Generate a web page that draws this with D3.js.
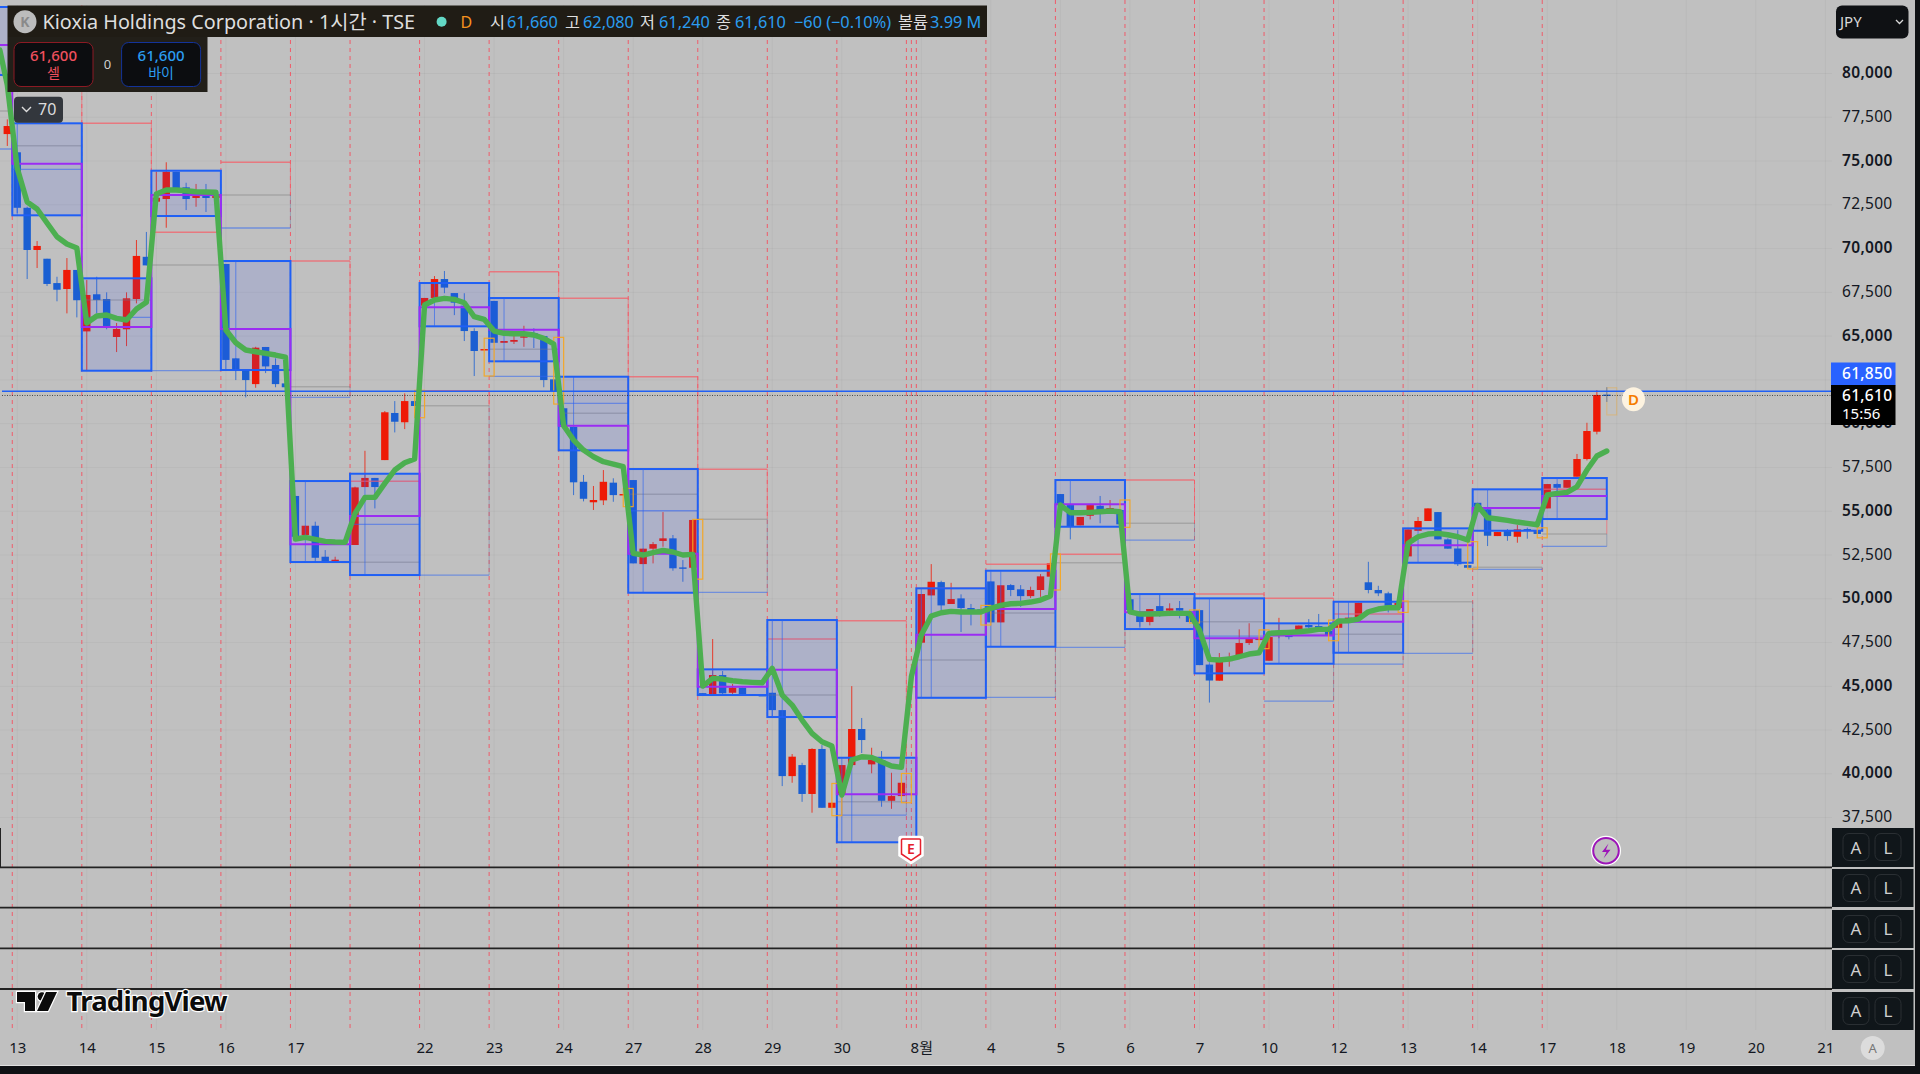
<!DOCTYPE html>
<html><head><meta charset="utf-8">
<script src="https://cdn.jsdelivr.net/npm/d3@7"></script>
<style>
html,body{margin:0;padding:0;background:#c0c0c0;overflow:hidden}
svg{display:block}
text{font-family:"Noto Sans","Noto Sans CJK KR",sans-serif}
</style></head><body>
<svg id="c" width="1920" height="1074"></svg>
<script>
// [open, high, low, close] per hourly bar
const candles=[
[76540,77380,75860,77000],[75500,75500,72030,72330],[72330,72390,68260,69920],[69920,70430,68890,70150],[69420,69420,67860,67980],[68030,68390,66990,67650],[67690,69460,66300,68780],[68780,68780,66070,67050],
[65270,68200,63060,67350],[67390,68390,66300,67060],[67120,67500,65390,65580],[64950,65750,64090,65410],[65390,67500,64430,67160],[67120,70490,66870,69580],[69530,70950,69040,69040],
[72680,74390,72680,72900],[72830,74930,71190,74390],[74390,74390,73350,73350],[73500,73760,72200,72830],[72890,73690,72390,73060],[73060,73690,72090,72890],[72890,73060,72890,73060],
[69120,69120,63060,63640],[63730,63750,62490,63020],[63060,63060,61500,62490],[62260,64390,62050,64340],[64380,64380,62890,63270],[63350,63730,62080,62260],[62300,62300,62080,62080],
[55870,55870,53540,53540],[53640,54170,53640,54170],[54170,54400,52110,52340],[52400,52780,52110,52110],[52140,52400,52110,52230],[52100,52140,52080,52120],
[53070,56400,53070,56360],[56380,58450,56380,56900],[56900,56900,55160,56380],[57920,60720,57920,60650],[60610,61290,59500,60110],[60080,61730,59690,61290],[61290,61290,61010,61010],
[66740,67180,66450,67180],[67180,68430,67180,68260],[68260,68720,67450,67770],[67460,67460,66200,66910],[66740,67450,64720,65290],[65290,65450,62720,64150],[64190,64260,64190,64260],
[67010,67010,64620,64620],[64620,64720,64620,64720],[64680,65010,64550,64780],[64910,65590,64390,64990],[65180,65450,64320,64950],[65000,65000,62080,62490],[62530,62530,61810,61810],
[60880,60880,59820,59820],[59820,59820,55920,56650],[56680,57070,55560,55710],[55510,56440,55070,55640],[55620,57350,55350,56680],[56630,56880,55540,55920],[55920,55980,55920,55980],
[56780,56780,52020,52020],[51980,52860,51980,52860],[52860,53240,52020,53120],[53300,54950,52970,53450],[53450,53640,51600,51740],[51790,52210,50970,51770],[51770,54500,51770,54500],
[44610,44610,44500,44500],[44540,47700,44540,45640],[45640,45870,44560,44600],[44630,45130,44560,44920],[44920,44920,44540,44540],[44540,44550,44500,44500],[44500,44520,44480,44480],
[44630,44630,43240,43640],[43640,43640,39300,39870],[39870,41130,39490,40980],[40500,40630,38400,38850],[38850,41460,37780,41420],[41420,41640,38060,38060],[38060,38350,38060,38350],
[38830,40500,38830,40500],[40500,45010,40500,42560],[42560,43190,41190,41930],[40540,41490,40030,40790],[40790,41300,38120,38460],[38460,40060,38000,38730],[38730,39490,38730,39490],null,
[47490,50270,47490,50270],[50190,51980,50190,50970],[50950,51030,49350,49620],[49700,50910,49700,49980],[50020,50250,48100,49470],[49470,49700,48480,49360],[49400,49500,49300,49350],
[50990,50990,48650,48650],[48650,50770,48650,50770],[50780,50840,50150,50500],[50540,50780,49540,50150],[50150,50690,50040,50500],[50500,51410,50110,51280],[51260,52100,51260,52020],
[55980,55980,55350,55350],[55350,55350,53390,54150],[54190,54670,54190,54670],[54740,55350,54530,55350],[55310,55870,54310,55030],[55030,55640,54880,55180],[55070,55070,54250,54250],
[49970,49970,49350,49350],[49010,49300,48400,48670],[48670,49410,48480,49410],[49580,50270,48970,49300],[49320,49740,49010,49450],[49470,49870,48880,49320],[49260,49260,48670,48670],
[49350,49350,46210,46210],[46240,46240,44070,45330],[45320,46900,45320,46390],[46440,46920,46120,46610],[46760,48250,46760,47470],[47470,48600,47360,47700],[47640,47760,47640,47760],
[46460,47810,46460,47810],[47980,48910,47740,48100],[47980,48120,47680,47810],[48210,48470,48210,48470],[48500,48840,48330,48370],[48440,49130,48120,48340],[48160,48160,47890,47890],
[48340,48600,48340,48600],[48690,48920,48690,48920],[48920,49770,48920,49770],[50940,52110,50310,50500],[50500,50740,50150,50310],[50310,50400,49220,49600],[49470,49760,49470,49760],
[52420,53960,52420,53960],[53880,54670,53880,54440],[54440,55160,54440,55160],[54950,54950,53390,53390],[53390,53450,52860,52860],[52870,53920,51870,51970],[51920,51920,51770,51770],
[55480,55480,55260,55260],[55110,55110,53010,53600],[53580,53810,53580,53810],[53880,53980,53310,53580],[53540,54210,53200,53960],[53980,54060,53430,53880],[53880,53880,53700,53700],
[55160,56550,55160,56550],[56550,56580,55920,56340],[56340,56780,56340,56780],[56970,58270,56970,57980],[57980,60050,57900,59580],[59540,61920,59390,61640],[61660,62080,61240,61610]
];
const averageLine=[79340,74584,72660,72260,71460,70677,70260,70032,65748,66148,66205,66016,65920,66548,66930,73117,73345,73345,73305,73248,73231,73214,65348,64623,64206,64109,64017,63920,63806,53411,53507,53393,53279,53239,53222,54878,55792,55792,56592,57352,57769,57980,66776,67062,67159,67102,66908,66108,65960,65291,65160,65137,65137,65063,64874,64549,59882,59065,58494,58111,57826,57694,57541,52593,52497,52628,52765,52668,52497,52536,45014,45454,45414,45317,45260,45226,45203,46024,44500,43929,43072,42312,41833,41586,38788,40787,40976,40941,40690,40445,40370,45545,47927,49012,49201,49281,49240,49240,49240,49452,49623,49715,49737,49812,49926,50154,55352,54913,54913,54936,54970,55010,54970,49257,49126,49126,49143,49166,49166,49166,48212,46539,46499,46556,46687,46842,46916,48024,48058,48081,48115,48172,48252,48252,48726,48744,48841,49257,49412,49486,49486,53165,53542,53696,53736,53656,53542,53353,55312,54627,54552,54478,54381,54306,54228,55924,56020,56078,56398,57352,58152,58437];
// Daily range boxes: first bar of each session
const dayStarts=[-6,1,8,15,22,29,35,42,49,56,63,70,77,84,92,99,106,113,120,127,134,141,148,155];
const dayHighs=[83798,77155,68302,74448,69290,56723,57140,68033,67176,62681,57409,45967,48784,40918,50594,51600,56780,50268,50023,48595,49829,54021,56249,56895];
const dayLows=[79914,71900,63024,71860,63063,52096,51354,65560,63561,58476,50343,44500,43243,36090,44345,47258,54113,48269,45739,46288,46916,52056,53884,54553];
const dayMids=[81628,74847,65520,73060,65406,53107,54724,66645,65366,59882,52570,44974,45941,38827,47945,49412,55392,49224,47738,47899,48687,53050,55181,55867];
const lastBar=161;
// Thin projected levels of the earlier session
const levelStarts=[-6,1,8,15,22,29,35,42,49,56,63,70,77,84,91,92,99,106,113,120,127,134,141,148,155];
const levelEnds=[1,8,15,22,29,35,42,49,56,63,70,77,84,91,92,99,106,113,120,127,134,141,148,155,161];
const levelRed=[null,84009,77155,70929,74927,69290,56706,61881,68678,67159,62681,57391,47698,48744,44974,50594,51965,52536,56780,50268,50023,49126,null,null,56249];
const levelGray=[77858,75876,67062,69061,73060,62110,52079,61025,64246,60590,55963,54534,44500,38405,46500,46500,49183,52056,54307,48687,47967,47967,49829,51794,53696];
const levelBlue=[75687,74528,66074,63024,71175,61505,54250,51354,62704,61162,55027,50366,43243,37645,null,44345,44368,47225,53353,47870,44157,46270,46881,51679,52994];
const stemBars=[1,23,30,36,43,50,57,64,71,77,78,84,85,92,93,99,100,107,114,121,128,134,135,142,149,156];
// Orange end-of-session boxes: bar, top price, bottom price
const orangeBars=[41,48,55,62,69,83,90,98,105,112,119,126,133,140,147,154,161];
const orangeTops=[61900,64880,64930,56300,54530,39450,40020,49620,52560,55640,49360,48220,48780,49870,53260,54050,62050];
const orangeBottoms=[60340,62720,61120,55260,51120,37610,38350,48500,50500,54080,48610,47150,47600,49220,51700,53480,60500];
const priceTicks=d3.range(37500,80001,2500);
const hiddenPriceLabel=62500;
const timeBars=[1,8,15,22,29,42,49,56,63,70,77,84,92,99,106,113,120,127,134,141,148,155,162,169,176,183];
const timeLabels=["13","14","15","16","17","22","23","24","27","28","29","30","8월","4","5","6","7","10","12","13","14","17","18","19","20","21"];
const extraDashBars=[35,91,91.5];
const lastPrice=61610, alertPrice=61850;

const svg=d3.select("#c");
const x=d3.scaleLinear().domain([0,161]).range([7.3,1606.8]);
const y=d3.scaleLinear().domain([80000,37500]).range([73.5,817.6]);
const edge=b=>x(b-0.5);
const RED="#ee1a06",BLUE="#1a5fd2",BOX="#1f5ff5",PURP="#9b2cf2";

svg.append("rect").attr("width",1920).attr("height",1074).attr("fill","#c0c0c0");
// grid
const grid=svg.append("g").attr("stroke","#000").attr("stroke-opacity",.035);
grid.selectAll("line.h").data(priceTicks).join("line").attr("x1",0).attr("x2",1832).attr("y1",d=>y(d)).attr("y2",d=>y(d));
grid.selectAll("line.v").data(timeBars).join("line").attr("x1",d=>x(d)).attr("x2",d=>x(d)).attr("y1",0).attr("y2",1030);
// session separators
const dashBars=timeBars.filter(d=>d<=155).concat(extraDashBars);
svg.append("g").selectAll("line").data(dashBars).join("line")
 .attr("x1",d=>edge(d)).attr("x2",d=>edge(d)).attr("y1",0).attr("y2",1030)
 .attr("stroke","#f4505f").attr("stroke-opacity",.9).attr("stroke-width",1).attr("stroke-dasharray","4 4");
// candles
const rows=candles.map((r,i)=>r&&({i,o:r[0],h:r[1],l:r[2],c:r[3]})).filter(Boolean);
const cg=svg.append("g");
const colr=d=>d.c>=d.o?RED:BLUE;
cg.selectAll("line").data(rows).join("line").attr("x1",d=>x(d.i)).attr("x2",d=>x(d.i)).attr("y1",d=>y(d.h)).attr("y2",d=>y(d.l)).attr("stroke",colr).attr("stroke-opacity",.8).attr("stroke-width",1);
cg.selectAll("rect").data(rows).join("rect").attr("x",d=>x(d.i)-3.7).attr("width",7.4)
 .attr("y",d=>y(Math.max(d.o,d.c))).attr("height",d=>Math.max(1.4,y(Math.min(d.o,d.c))-y(Math.max(d.o,d.c)))).attr("fill",colr);
// projected thin levels
const lv=svg.append("g").attr("fill","none");
levelStarts.forEach((s,k)=>{
 const x0=edge(s),x1=k===levelStarts.length-1?x(levelEnds[k]):edge(levelEnds[k]);
 const vals=[levelRed[k],levelGray[k],levelBlue[k]].filter(v=>v!=null);
 const lo=d3.min(vals),hi=d3.max(vals);
 if(levelRed[k]!=null){
  lv.append("line").attr("x1",x0).attr("x2",x1).attr("y1",y(levelRed[k])).attr("y2",y(levelRed[k])).attr("stroke","#f4606a").attr("stroke-width",1.5).attr("stroke-opacity",.75);
  lv.append("line").attr("x1",x1).attr("x2",x1).attr("y1",y(levelRed[k])).attr("y2",y(levelGray[k])).attr("stroke","#f4606a").attr("stroke-opacity",.65);
 }
 lv.append("line").attr("x1",x0).attr("x2",x1).attr("y1",y(levelGray[k])).attr("y2",y(levelGray[k])).attr("stroke","#7a7a7a").attr("stroke-width",1.5).attr("stroke-opacity",.38);
 if(levelBlue[k]!=null) lv.append("line").attr("x1",x0).attr("x2",x1).attr("y1",y(levelBlue[k])).attr("y2",y(levelBlue[k])).attr("stroke","#2f66f0").attr("stroke-width",1.3).attr("stroke-opacity",.55);
 lv.append("line").attr("x1",x1).attr("x2",x1).attr("y1",y(levelRed[k]==null?hi:levelGray[k])).attr("y2",y(lo)).attr("stroke","#6f7ea0").attr("stroke-opacity",.5);
});
// daily boxes
const days=dayStarts.map((s,k)=>({s,e:k<dayStarts.length-1?dayStarts[k+1]:null,h:dayHighs[k],l:dayLows[k],m:dayMids[k]}));
const dx0=d=>edge(d.s), dx1=d=>d.e==null?x(lastBar):edge(d.e);
const bg=svg.append("g");
bg.selectAll("rect").data(days).join("rect").attr("x",dx0).attr("width",d=>dx1(d)-dx0(d)).attr("y",d=>y(d.h)).attr("height",d=>y(d.l)-y(d.h))
 .attr("fill","rgba(50,80,255,.13)").attr("stroke",BOX).attr("stroke-width",2);
// inner stems
svg.append("g").selectAll("line").data(stemBars).join("line")
 .attr("x1",d=>x(d)).attr("x2",d=>x(d))
 .attr("y1",d=>y(dayHighs[d3.bisectRight(dayStarts,d)-1])).attr("y2",d=>y(dayLows[d3.bisectRight(dayStarts,d)-1]))
 .attr("stroke","#2f66f0").attr("stroke-opacity",.65).attr("stroke-width",1);
// stepped mid level
const midPts=days.flatMap(d=>[[dx0(d),y(d.m)],[dx1(d),y(d.m)]]);
svg.append("path").attr("d",d3.line()(midPts)).attr("fill","none").attr("stroke",PURP).attr("stroke-width",2);
// orange boxes
svg.append("g").selectAll("rect").data(orangeBars).join("rect")
 .attr("x",d=>x(d)).attr("width",d=>x(d+1)-x(d)).attr("y",(d,i)=>y(orangeTops[i])).attr("height",(d,i)=>y(orangeBottoms[i])-y(orangeTops[i]))
 .attr("fill","none").attr("stroke","#f5a623").attr("stroke-width",1.2).attr("stroke-opacity",(d,i)=>i===orangeBars.length-1?.35:.95);
// price lines
svg.append("line").attr("x1",2).attr("x2",1832).attr("y1",y(alertPrice)).attr("y2",y(alertPrice)).attr("stroke","#1f5ff5").attr("stroke-width",1.7);
svg.append("line").attr("x1",2).attr("x2",1832).attr("y1",y(lastPrice)).attr("y2",y(lastPrice)).attr("stroke","#222").attr("stroke-width",1).attr("stroke-dasharray","1 1.5").attr("stroke-opacity",.75);
// average line
const lineData=[[-0.75,81340]].concat(averageLine.map((v,i)=>[i,v]));
svg.append("path").attr("d",d3.line().x(d=>x(d[0])).y(d=>y(d[1]))(lineData)).attr("fill","none").attr("stroke","#4caf50").attr("stroke-width",5.4).attr("stroke-linejoin","round").attr("stroke-linecap","round");

// axes
const ay=svg.append("g").attr("transform","translate(1842,-0.8)").call(d3.axisRight(y).tickValues(priceTicks.filter(d=>d!==hiddenPriceLabel)).tickSize(0).tickPadding(0).tickFormat(d3.format(",")));
ay.select(".domain").remove();
ay.selectAll("text").attr("font-size",15.5).attr("font-weight",d=>d%5000===0?600:400).attr("fill","#131722").attr("font-family",'"Noto Sans"').attr("letter-spacing",.35);
const ax=svg.append("g").attr("transform","translate(0,1048)").call(d3.axisBottom(x).tickValues(timeBars).tickSize(0).tickPadding(0).tickFormat((d,i)=>timeLabels[i]));
ax.select(".domain").remove();
ax.selectAll("text").attr("dy",".35em").attr("y",0).attr("font-size",15).attr("fill","#131722").attr("font-family",'"Noto Sans","Noto Sans CJK KR"');

// bottom/right frame
svg.append("rect").attr("x",0).attr("y",1066).attr("width",1920).attr("height",8).attr("fill","#0f1114");
svg.append("line").attr("x1",0).attr("x2",1915).attr("y1",1065.5).attr("y2",1065.5).attr("stroke","#e0e0e0");
svg.append("rect").attr("x",1915).attr("y",0).attr("width",5).attr("height",1074).attr("fill","#0f1114");

// panes
const paneLines=[867.3,907.7,948.3,989];
svg.append("g").selectAll("line").data(paneLines).join("line").attr("x1",0).attr("x2",1832).attr("y1",d=>d).attr("y2",d=>d).attr("stroke","#222").attr("stroke-width",1.8);
svg.append("line").attr("x1",.5).attr("x2",.5).attr("y1",828).attr("y2",867).attr("stroke","#222");
const paneBoxes=[[828,867],[869,907],[910,948],[950,989],[992,1030]];
const pg=svg.append("g");
paneBoxes.forEach(([a,b])=>{
 pg.append("rect").attr("x",1832).attr("y",a).attr("width",81.5).attr("height",b-a).attr("fill","#10161a");
 [["A",1843],["L",1875]].forEach(([t,px])=>{
  pg.append("rect").attr("x",px).attr("y",a+5.5).attr("width",26).attr("height",27).attr("rx",6).attr("fill","none").attr("stroke","#2a2f33");
  pg.append("text").attr("x",px+13).attr("y",(a+b)/2).attr("dy",".36em").attr("text-anchor","middle").attr("font-size",17).attr("fill","#d0d0d0").text(t);
 });
});
// price tags
svg.append("rect").attr("x",1831).attr("y",362.5).attr("width",64.5).attr("height",23).attr("fill","#2962ff");
svg.append("text").attr("x",1842).attr("y",373).attr("dy",".36em").attr("font-size",15.5).attr("font-weight",500).attr("letter-spacing",.3).attr("fill","#fff").text(d3.format(",")(alertPrice));
svg.append("rect").attr("x",1831).attr("y",385).attr("width",64.5).attr("height",40).attr("fill","#000");
svg.append("text").attr("x",1842).attr("y",395).attr("dy",".36em").attr("font-size",15.5).attr("font-weight",500).attr("letter-spacing",.3).attr("fill","#fff").text(d3.format(",")(lastPrice));
svg.append("text").attr("x",1842).attr("y",413.5).attr("dy",".36em").attr("font-size",15).attr("fill","#fff").text("15:56");
// currency
svg.append("rect").attr("x",1836).attr("y",5.5).attr("width",72.5).attr("height",33).attr("rx",6).attr("fill","#0f1114");
svg.append("text").attr("x",1840).attr("y",22).attr("dy",".36em").attr("font-size",15).attr("fill","#d8d8d8").text("JPY");
svg.append("path").attr("d","M1896 20l3.5 3.5 3.5-3.5").attr("fill","none").attr("stroke","#d8d8d8").attr("stroke-width",1.3);
// auto button
svg.append("circle").attr("cx",1872.7).attr("cy",1048).attr("r",12).attr("fill","#dcdcdc");
svg.append("text").attr("x",1872.7).attr("y",1048).attr("dy",".36em").attr("text-anchor","middle").attr("font-size",13).attr("fill","#777").text("A");

// header
svg.append("rect").attr("x",0).attr("y",0).attr("width",990).attr("height",5).attr("fill","#c0c0c0");
svg.append("rect").attr("x",7.5).attr("y",5.5).attr("width",979.5).attr("height",31.5).attr("fill","#201c15");
svg.append("rect").attr("x",7.5).attr("y",37).attr("width",200).attr("height",55).attr("fill","#221f19");
svg.append("circle").attr("cx",25).attr("cy",21.7).attr("r",11.5).attr("fill","#bcbcbc");
svg.append("text").attr("x",25).attr("y",21.7).attr("dy",".36em").attr("text-anchor","middle").attr("font-size",14).attr("font-weight",700).attr("fill","#8a8a8a").text("K");
const H=(t,px,fill,size)=>svg.append("text").attr("x",px).attr("y",22).attr("dy",".36em").attr("font-size",size||16.3).attr("fill",fill).text(t);
H("Kioxia Holdings Corporation · 1시간 · TSE",42.5,"#dedede",19.8);
svg.append("circle").attr("cx",441.6).attr("cy",21.7).attr("r",5).attr("fill","#63d8c5");
H("D",460.5,"#f5921e",16);
const W="#dedede",B="#2b9cf0";
H("시",490,W);H("61,660",507,B);H("고",565,W);H("62,080",583,B);H("저",640,W);H("61,240",659,B);H("종",716,W);H("61,610",735,B);H("−60 (−0.10%)",794,B);H("볼륨",898,W);H("3.99 M",930,B);
// order buttons
[[14,"#8c1a24","61,600","셀","#f0505e"],[121.6,"#13339a","61,600","바이","#2b9cf0"]].forEach(([px,st,a,b,c])=>{
 svg.append("rect").attr("x",px).attr("y",42.5).attr("width",79).attr("height",44).attr("rx",7).attr("fill","#0c0d10").attr("stroke",st);
 svg.append("text").attr("x",px+39.5).attr("y",56).attr("dy",".36em").attr("text-anchor","middle").attr("font-size",15).attr("font-weight",500).attr("fill",c).text(a);
 svg.append("text").attr("x",px+39.5).attr("y",73).attr("dy",".36em").attr("text-anchor","middle").attr("font-size",14).attr("fill",c).text(b);
});
svg.append("text").attr("x",107.5).attr("y",64).attr("dy",".36em").attr("text-anchor","middle").attr("font-size",13).attr("fill","#cfcfcf").text("0");
// collapse chip
svg.append("rect").attr("x",14).attr("y",96.7).attr("width",49).attr("height",26).attr("rx",4).attr("fill","#33373d");
svg.append("path").attr("d","M22 107l4.5 4.5 4.5-4.5").attr("fill","none").attr("stroke","#ddd").attr("stroke-width",1.4);
svg.append("text").attr("x",38).attr("y",109.5).attr("dy",".36em").attr("font-size",16).attr("fill","#ddd").text("70");

// markers
svg.append("ellipse").attr("cx",1633.5).attr("cy",399.3).attr("rx",11.5).attr("ry",12).attr("fill","#fdf3e0");
svg.append("text").attr("x",1633.5).attr("y",399.3).attr("dy",".36em").attr("text-anchor","middle").attr("font-size",15).attr("font-weight",600).attr("fill","#f57c00").text("D");
svg.append("path").attr("d","M899 838.5q0-2 2-2h20q2 0 2 2v17l-12 8-12-8z").attr("fill","#fff").attr("stroke","#fff").attr("stroke-width",1.5);
svg.append("path").attr("d","M901.5 840q0-1 1-1h17q1 0 1 1v14l-9.5 6.3-9.5-6.3z").attr("fill","none").attr("stroke","#e5202c").attr("stroke-width",1.5);
svg.append("text").attr("x",911).attr("y",849).attr("dy",".36em").attr("text-anchor","middle").attr("font-size",14).attr("font-weight",600).attr("fill","#e5202c").text("E");
svg.append("circle").attr("cx",1606).attr("cy",850.7).attr("r",15).attr("fill","#fff");
svg.append("circle").attr("cx",1606).attr("cy",850.7).attr("r",12.8).attr("fill","#bfbfbf").attr("stroke","#9c14b8").attr("stroke-width",2);
svg.append("path").attr("d","M1608.5 843.5l-6.5 8.5h4.5l-3 6.5 7-8.8h-4.6z").attr("fill","#9c14b8");

// logo
const logo=svg.append("g").attr("fill","#0b0b0b").attr("stroke","#fff").attr("stroke-width",2.4).style("paint-order","stroke");
logo.append("path").attr("d","M17 992H35V1011H25V1002H17Z");
logo.append("circle").attr("cx",42).attr("cy",996.5).attr("r",4.3);
logo.append("path").attr("d","M57 992L48 1011H37L46 992Z");
logo.append("text").attr("x",66.5).attr("y",1011).attr("font-size",27.5).attr("font-weight",700).attr("letter-spacing",-.8).attr("font-family","Inter").text("TradingView");
</script></body></html>
